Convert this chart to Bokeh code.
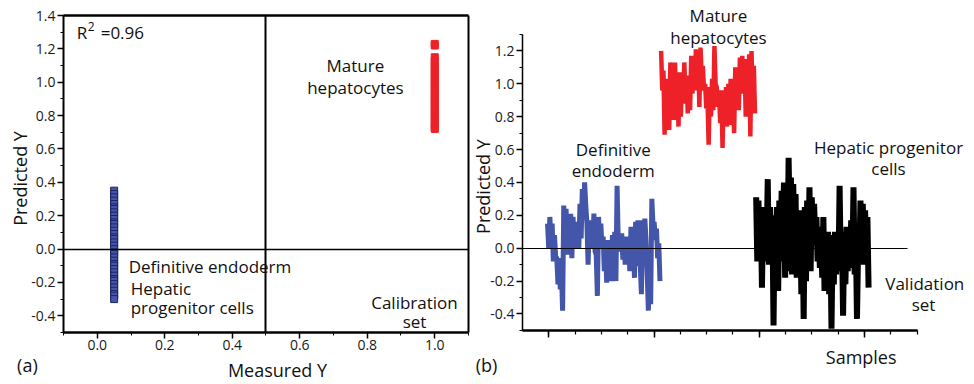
import numpy as np
from bokeh.plotting import figure
from bokeh.layouts import row
from bokeh.models import Range1d, FixedTicker, PrintfTickFormatter, Label, LinearAxis
from bokeh.embed import file_html
from bokeh.resources import INLINE

FONT = "Open Sans"

# ---------------- (a) Calibration set ----------------
cal_de_measured = 0.05
cal_de_predicted = [0.35, 0.33, 0.31, 0.29, 0.27, 0.25, 0.24, 0.22, 0.20, 0.18, 0.16, 0.15,
                    0.13, 0.11, 0.09, 0.07, 0.06, 0.04, 0.02, 0.00, -0.02, -0.03, -0.05,
                    -0.07, -0.09, -0.10, -0.12, -0.14, -0.16, -0.18, -0.19, -0.21, -0.23,
                    -0.25, -0.27, -0.28, -0.30]
cal_mh_measured = 1.0
cal_mh_predicted = [1.23, 1.22, 1.15, 1.13, 1.11, 1.09, 1.07, 1.05, 1.03, 1.01, 0.99, 0.97,
                    0.95, 0.93, 0.91, 0.89, 0.87, 0.85, 0.83, 0.81, 0.79, 0.77, 0.75, 0.73, 0.72]
r2_value = "0.96"

# ---------------- (b) Validation set ----------------
val_de = [0.15, 0.00, 0.19, 0.04, 0.15, -0.08, 0.08, -0.05, -0.06, -0.22, -0.06, -0.25,
          -0.14, -0.38, 0.26, 0.00, 0.24, -0.04, 0.17, 0.01, 0.21, -0.06, 0.19, 0.05,
          0.16, 0.00, 0.11, 0.00, 0.27, 0.06, 0.36, 0.19, 0.40, 0.26, 0.15, -0.10,
          0.17, 0.05, 0.13, 0.00, 0.21, -0.02, -0.04, -0.29, 0.19, 0.04, 0.15, 0.00,
          0.07, -0.14, 0.05, -0.21, 0.05, -0.18, -0.06, -0.20, 0.08, -0.14, 0.10, -0.20,
          0.38, 0.05, 0.09, -0.02, 0.09, -0.07, 0.07, -0.10, 0.07, -0.08, 0.04, -0.14,
          0.13, -0.12, 0.07, -0.18, 0.16, -0.04, 0.17, -0.10, -0.10, -0.28, 0.17, -0.06,
          0.18, 0.04, -0.16, -0.38, -0.14, -0.34, 0.30, 0.14, 0.16, 0.05, 0.12, -0.06,
          0.03, -0.20]
val_mh = [1.20, 0.96, 1.08, 0.69, 1.03, 0.80, 0.96, 0.72, 1.13, 0.91, 1.00, 0.78,
          1.13, 0.80, 0.98, 0.74, 1.07, 0.80, 1.03, 0.88, 1.13, 0.91, 1.03, 0.82,
          1.05, 0.84, 1.17, 0.94, 1.12, 0.96, 1.21, 1.00, 1.19, 0.86, 1.22, 1.05,
          1.11, 0.96, 1.00, 0.85, 0.92, 0.63, 0.98, 0.80, 1.03, 0.84, 1.23, 1.00,
          0.98, 0.86, 0.94, 0.76, 0.96, 0.61, 0.96, 0.76, 0.98, 0.74, 1.00, 0.79,
          1.03, 0.75, 0.92, 0.70, 1.10, 0.92, 1.05, 0.84, 1.16, 0.94, 1.17, 0.98,
          1.15, 0.80, 1.09, 0.86, 1.18, 0.68, 1.20, 0.88, 1.11, 0.82]
val_hp = [0.31, -0.08, 0.29, -0.02, 0.25, -0.24, 0.22, -0.08, 0.25, -0.02, 0.42, -0.10,
          0.25, -0.08, 0.20, -0.47, 0.19, -0.04, 0.25, -0.26, 0.29, -0.08, 0.35, 0.02,
          0.40, -0.18, 0.33, -0.14, 0.55, 0.12, 0.43, -0.16, 0.39, -0.02, 0.33, -0.18,
          0.19, 0.06, 0.23, -0.28, 0.17, -0.43, 0.25, -0.20, 0.29, -0.08, 0.37, -0.14,
          0.31, 0.02, 0.27, 0.04, 0.19, -0.08, 0.08, -0.12, 0.13, -0.18, 0.19, -0.26,
          0.08, -0.08, 0.10, -0.28, 0.08, -0.49, 0.04, -0.22, 0.10, -0.16, 0.06, -0.14,
          0.38, -0.10, 0.10, -0.41, 0.06, -0.22, 0.13, -0.14, 0.10, -0.12, 0.17, -0.08,
          0.37, -0.16, 0.08, -0.43, 0.02, -0.08, 0.29, -0.02, 0.27, -0.10, 0.23, -0.08,
          0.19, -0.24]

BLUE = "#4456AA"
RED = "#EE2128"
TXT = "#111111"


def add_axis(p, side, loc, bounds, major=(), minor=(), width=2.0,
             major_out=6, minor_out=3, tick_width=1.5):
    major = [float(v) for v in major]
    minor = [float(v) for v in minor]
    ax = LinearAxis(fixed_location=loc, bounds=bounds,
                    ticker=FixedTicker(ticks=major, minor_ticks=minor),
                    formatter=PrintfTickFormatter(format="%.1f"))
    ax.axis_line_width = width
    ax.axis_line_color = "black"
    ax.major_tick_line_width = tick_width
    ax.minor_tick_line_width = 1 if len(major) > 0 else tick_width
    ax.major_tick_in = 0
    ax.major_tick_out = major_out
    ax.minor_tick_in = 0
    ax.minor_tick_out = minor_out
    ax.major_label_text_font = FONT
    ax.major_label_text_font_size = "14px"
    ax.major_label_text_color = "#1a1a1a"
    ax.major_label_standoff = 2
    p.add_layout(ax, side)
    return ax


def lab(p, x, y, text, size="17px", align="center", **kw):
    p.add_layout(Label(x=x, y=y, text=text, text_font=FONT, text_font_size=size,
                       text_align=align, text_baseline="middle", text_color=TXT, **kw))


def base_fig(width, xr, yr):
    p = figure(width=width, height=384, x_range=Range1d(*xr), y_range=Range1d(*yr),
               output_backend="svg", toolbar_location=None,
               x_axis_location=None, y_axis_location=None,
               min_border_left=0, min_border_right=0, min_border_top=0, min_border_bottom=0)
    p.xgrid.grid_line_color = None
    p.ygrid.grid_line_color = None
    p.outline_line_color = None
    return p


# ---------- panel (a) ----------
AX0, AX1, AY0, AY1 = -0.1, 1.1, -0.5, 1.4
pa = base_fig(472, (-0.2867, 1.1119), (-0.812, 1.49))
add_axis(pa, "left", AX0, (AY0, AY1),
         np.round(np.arange(-4, 15, 2) / 10, 1), np.round(np.arange(-5, 15) / 10, 1))
add_axis(pa, "below", AY0, (AX0, AX1),
         np.round(np.arange(0, 11, 2) / 10, 1), np.round(np.arange(-1, 12) / 10, 1), width=2.5)
add_axis(pa, "above", AY1, (AX0, AX1), width=2.5)
add_axis(pa, "right", AX1, (AY0, AY1), width=2)
add_axis(pa, "below", 0, (AX0, AX1), width=1.5)
add_axis(pa, "left", 0.5, (AY0, AY1), width=2)

pa.scatter(x=[cal_de_measured] * len(cal_de_predicted), y=cal_de_predicted, marker="square",
           size=7, fill_color=BLUE, line_color="#1C2561", line_width=1)
pa.scatter(x=[cal_mh_measured] * len(cal_mh_predicted), y=cal_mh_predicted, marker="square",
           size=7, fill_color=RED, line_color=RED, line_width=1)

lab(pa, -0.061, 1.30, "R", align="left")
lab(pa, -0.061, 1.30, "2", size="12px", align="left", x_offset=11, y_offset=6)
lab(pa, -0.061, 1.30, "=" + r2_value, align="left", x_offset=24)
lab(pa, 0.765, 1.10, "Mature")
lab(pa, 0.765, 0.968, "hepatocytes")
lab(pa, 0.093, -0.105, "Definitive endoderm", align="left")
lab(pa, 0.099, -0.237, "Hepatic", align="left")
lab(pa, 0.099, -0.35, "progenitor cells", align="left")
lab(pa, 0.94, -0.32, "Calibration")
lab(pa, 0.94, -0.435, "set")
lab(pa, -0.207, -0.698, "(a)", size="18px")
lab(pa, 0.534, -0.728, "Measured Y", size="18px")
lab(pa, -0.230, 0.423, "Predicted Y", size="18px", angle=np.pi / 2)

# ---------- panel (b) ----------
X0, X1 = -21.6, 319.2
STEP = 22.7
BY0, BY1 = -0.5, 1.3
pb = base_fig(502, (-64.74, 368.4), (-0.829, 1.5068))
add_axis(pb, "left", X0, (BY0, BY1),
         np.round(np.arange(-4, 13, 2) / 10, 1), np.round(np.arange(-5, 14) / 10, 1), width=1.5)
minor_x = [X0 + STEP * k for k in range(1, 16)]
major_x = [minor_x[k] for k in (0, 4, 8, 12)]
add_axis(pb, "below", BY0, (X0, X1), minor=minor_x, width=2, minor_out=4, tick_width=1.2)
add_axis(pb, "below", BY0, (X0, X1), minor=major_x, width=2, minor_out=7, tick_width=1.5)
add_axis(pb, "below", 0, (X0, 310.6), width=1)

n_de, n_mh, n_hp = len(val_de), len(val_mh), len(val_hp)
x_de = np.arange(n_de)
x_mh = np.arange(n_de, n_de + n_mh)
x_hp = np.arange(n_de + n_mh, n_de + n_mh + n_hp)
pb.line(x_de, val_de, line_color=BLUE, line_width=5)
pb.line(x_mh, val_mh, line_color=RED, line_width=4.5)
pb.line(x_hp, val_hp, line_color="black", line_width=6)

lab(pb, 147.5, 1.416, "Mature")
lab(pb, 147.5, 1.282, "hepatocytes")
lab(pb, 56.7, 0.60, "Definitive")
lab(pb, 56.7, 0.473, "endoderm")
lab(pb, 294.2, 0.611, "Hepatic progenitor")
lab(pb, 294.2, 0.483, "cells")
lab(pb, 325.5, -0.213, "Validation")
lab(pb, 324.4, -0.342, "set")
lab(pb, 270.6, -0.659, "Samples", size="18px")
lab(pb, -52.7, -0.713, "(b)", size="18px")
lab(pb, -56.1, 0.375, "Predicted Y", size="18px", angle=np.pi / 2)

layout = row(pa, pb)
open("out.html", "w").write(file_html(layout, INLINE))
